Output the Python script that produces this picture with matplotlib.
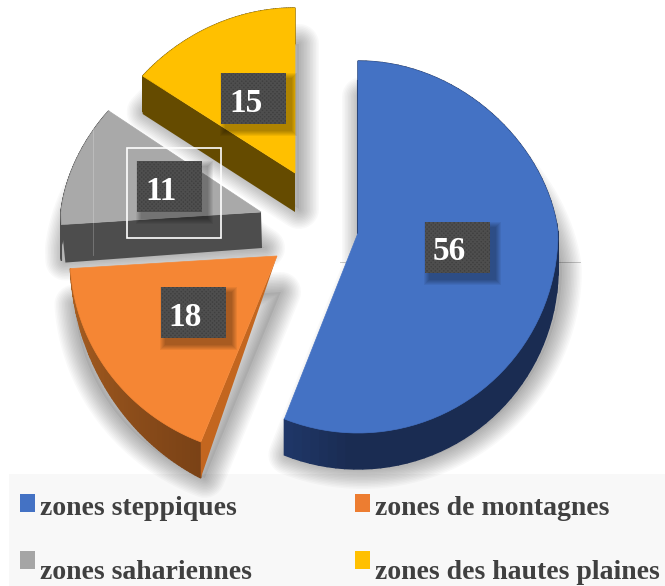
import numpy as np
import matplotlib
matplotlib.use('Agg')
import matplotlib.pyplot as plt
from matplotlib.colors import to_rgb
from matplotlib.patches import Polygon, Rectangle

# data
categories = ['zones steppiques', 'zones de montagnes', 'zones sahariennes', 'zones des hautes plaines']
values = [56, 18, 11, 15]

# style
face_colors = ['#4472C4', '#F58634', '#A9A9A9', '#FFC000']
swatch_colors = ['#4472C4', '#ED7D31', '#A5A5A5', '#FFC000']
side_dark = ['#1A2C52', '#7A4216', '#4D4D4D', '#654B00']
side_light = ['#24407A', '#AD6122', '#4D4D4D', '#654B00']
apex = [(358, 233), (277, 256), (261, 212), (295, 173)]
radius_x = [200, 207, 200, 200]
radius_up = [172, 172, 172, 165]
R_DOWN = 200
label_boxes = [(425, 222), (161, 287), (137, 161), (221, 73)]
legend_pos = [(20, 492, 40), (355, 492, 375), (20, 549, 40), (355, 549, 375)]
DEPTH = 36
SHADOW = (4, 36)
SERIF = 'Liberation Serif'


def rim(i, a0, a1):
    # outer arc in tilted view, angles clockwise from the top in degrees
    t = np.radians(np.linspace(a0, a1, 80))
    c = np.cos(t)
    x = apex[i][0] + radius_x[i] * np.sin(t) * (1 - 0.1 * np.clip(c, 0, 1))
    y = apex[i][1] - np.where(c > 0, radius_up[i], R_DOWN) * c
    return x, y


fig = plt.figure(figsize=(6.65, 5.86), dpi=100)
ax = fig.add_axes([0, 0, 1, 1])
ax.set_xlim(0, 665)
ax.set_ylim(586, 0)
ax.axis('off')

# legend background
ax.add_patch(Rectangle((9, 474), 656, 112, fc='#F8F8F8', ec='none', zorder=0))

# leader line behind the pie
ax.plot([340, 580], [261.5, 261.5], color='#C8C8C8', lw=0.7, zorder=1)

edges = np.cumsum([0] + values) / sum(values) * 360
arcs = [rim(i, edges[i], edges[i + 1]) for i in range(len(values))]

# soft shadows
for i, (x, y) in enumerate(arcs):
    px = np.r_[apex[i][0], x] + SHADOW[0]
    py = np.r_[apex[i][1], y] + SHADOW[1]
    pts = np.c_[px, py]
    ax.add_patch(Polygon(pts, fc='#000000', ec='none', alpha=0.05, zorder=2))
    for lw in np.arange(40, 2, -3):
        ax.add_patch(Polygon(pts, fc='none', ec='#000000', lw=lw * 0.72, alpha=0.022,
                             joinstyle='round', zorder=2))

# sides, outer rim first
for i, (x, y) in enumerate(arcs):
    c0 = np.array(to_rgb(side_light[i]))
    c1 = np.array(to_rgb(side_dark[i]))
    n = len(x) - 1
    # the orange rim gets thinner towards the left
    d = DEPTH * (1 - np.arange(n + 1) / n) ** 0.8 if i == 1 else np.full(n + 1, DEPTH)
    for k in range(n):
        if i == 0:
            f = 1 if k < n * 0.9 else 1 - (k - n * 0.9) / (n * 0.1) * 0.6
        else:
            f = 1 - k / n
        col = c0 + (c1 - c0) * f
        q = [(x[k], y[k]), (x[k + 1], y[k + 1]), (x[k + 1], y[k + 1] + d[k + 1]), (x[k], y[k] + d[k])]
        ax.add_patch(Polygon(q, fc=col, ec=col, lw=1.0, zorder=3 + i * 0.1))

# cut faces that can be seen
ax.add_patch(Polygon([apex[3], (arcs[3][0][0], arcs[3][1][0]),
                      (arcs[3][0][0], arcs[3][1][0] + DEPTH + 2),
                      (apex[3][0], apex[3][1] + DEPTH + 3)],
                     fc=side_dark[3], ec='none', zorder=3.5))
ax.add_patch(Polygon([apex[2], (arcs[2][0][0], arcs[2][1][0]),
                      (arcs[2][0][0] + 4, arcs[2][1][0] + DEPTH + 2),
                      (apex[2][0] + 1, apex[2][1] + DEPTH)],
                     fc=side_dark[2], ec='none', zorder=3.5))
ax.add_patch(Polygon([apex[1], (arcs[1][0][0], arcs[1][1][0]),
                      (arcs[1][0][0], arcs[1][1][0] + DEPTH)],
                     fc='#C3661F', ec='none', zorder=3.5))
ax.plot([apex[0][0], apex[0][0]], [arcs[0][1][0] + 20, apex[0][1]], color=side_dark[0], lw=1.5, zorder=3.5)

# top faces
for i, (x, y) in enumerate(arcs):
    pts = np.c_[np.r_[apex[i][0], x], np.r_[apex[i][1], y]]
    ax.add_patch(Polygon(pts, fc=face_colors[i], ec=face_colors[i], lw=0.5, zorder=4))

# faint vertical line across the grey slice
ax.plot([93, 93], [125, 255], color='#FFFFFF', lw=0.6, alpha=0.25, zorder=4.5)

# data labels
BOX_W, BOX_H = 65, 51
for i, (bx, by) in enumerate(label_boxes):
    for g in range(6, 0, -1):
        ax.add_patch(Rectangle((bx + 5 - g, by + 6 - g), BOX_W + 2 * g, BOX_H + 2 * g, fc='#000000',
                               ec='none', alpha=0.06, zorder=5))
    ax.add_patch(Rectangle((bx, by), BOX_W, BOX_H, fc='#404040', ec='none', zorder=6))
    ax.add_patch(Rectangle((bx, by), BOX_W, BOX_H, fc='none', ec='#4E4E4E', lw=0,
                           hatch='xxxxxxxx', zorder=6.1))
    ax.text(bx + 24.5, by + 30, str(values[i]), color='white', family=SERIF, weight='bold',
            fontsize=24, ha='center', va='center', zorder=7)

# white frame around the grey label
ax.add_patch(Rectangle((127, 148), 94, 90, fc='none', ec='white', lw=1.2, zorder=8))

# legend
for i, (sx, sy, tx) in enumerate(legend_pos):
    ax.add_patch(Rectangle((sx, sy + 2), 15, 18, fc=swatch_colors[i], ec='none', zorder=9))
    ax.text(tx, sy + 23 if i < 2 else sy + 30, categories[i], color='#404040', family=SERIF, weight='bold',
            fontsize=20, ha='left', va='baseline', zorder=9)

fig.savefig('out.png', dpi=100)
plt.close(fig)
